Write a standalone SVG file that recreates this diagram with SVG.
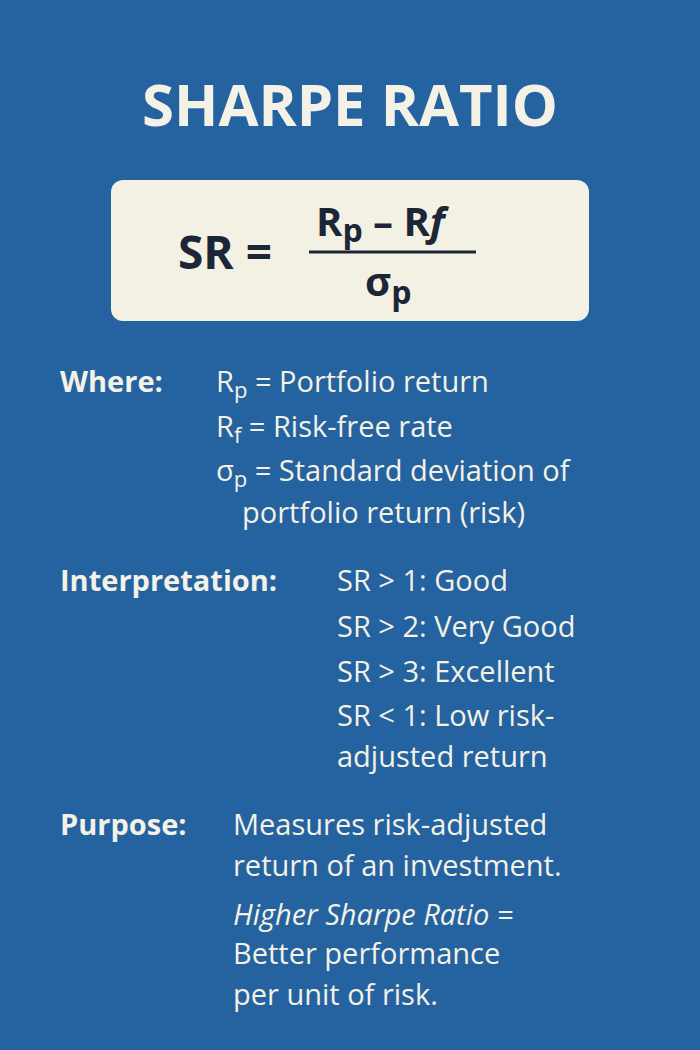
<svg xmlns="http://www.w3.org/2000/svg" width="700" height="1050" viewBox="0 0 700 1050">
<style>
text{font-family:"Open Sans","Noto Sans",sans-serif;fill:#f4f1e6}
.b{font-weight:bold}
.t{font-size:29px}
.f{fill:#1c2636;font-weight:bold}
</style>
<rect width="700" height="1050" fill="#2463a0"/>
<text x="350" y="126" text-anchor="middle" class="b" font-size="58">SHARPE RATIO</text>
<rect x="111" y="180" width="478" height="141" rx="12" fill="#f3f1e4"/>
<text x="178" y="269" class="f" font-size="46">SR =</text>
<text x="316" y="236" class="f" font-size="40">R<tspan font-size="32" dy="6">p</tspan><tspan dy="-6"> – R</tspan><tspan font-style="italic">f</tspan></text>
<line x1="309" y1="252" x2="476" y2="252" stroke="#1c2636" stroke-width="3"/>
<text x="365" y="296" class="f" font-size="40">σ<tspan font-size="32" dy="8">p</tspan></text>
<g class="t">
<text x="60" y="392" class="b">Where:</text>
<text x="216" y="392">R<tspan font-size="22" dy="6">p</tspan><tspan dy="-6"> = Portfolio return</tspan></text>
<text x="216" y="437">R<tspan font-size="22" dy="6">f</tspan><tspan dy="-6">  = Risk-free rate</tspan></text>
<text x="216" y="481">σ<tspan font-size="22" dy="6">p</tspan><tspan dy="-6"> = Standard deviation of</tspan></text>
<text x="242" y="523">portfolio return (risk)</text>
<text x="60" y="591" class="b">Interpretation:</text>
<text x="337" y="591">SR &gt; 1: Good</text>
<text x="337" y="637">SR &gt; 2: Very Good</text>
<text x="337" y="682">SR &gt; 3: Excellent</text>
<text x="337" y="726">SR &lt; 1: Low risk-</text>
<text x="337" y="767">adjusted return</text>
<text x="60" y="835" class="b">Purpose:</text>
<text x="233" y="835">Measures risk-adjusted</text>
<text x="233" y="876">return of an investment.</text>
<text x="233" y="925" font-style="italic">Higher Sharpe Ratio =</text>
<text x="233" y="964">Better performance</text>
<text x="233" y="1005">per unit of risk.</text>
</g>
</svg>
